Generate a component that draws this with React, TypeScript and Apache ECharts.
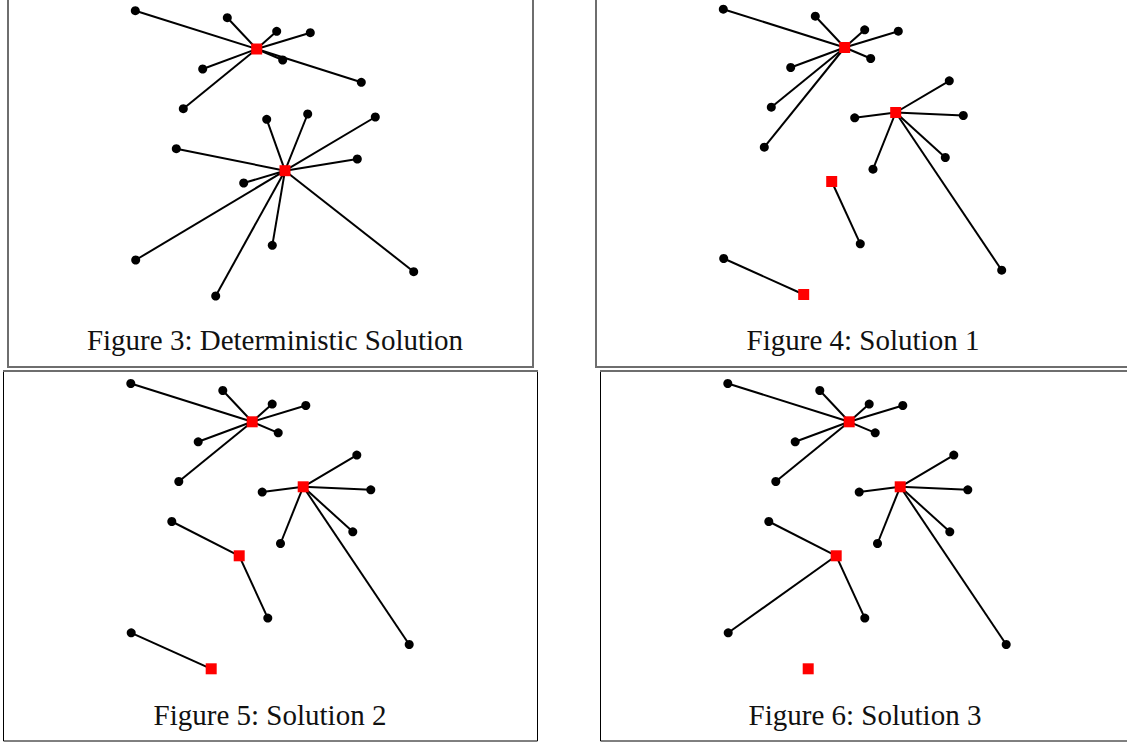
import React, { useEffect, useRef } from "react";
import * as echarts from "echarts";

// Node (customer) locations, in a shared plane (x right, y down)
const nodeX = [256.7, 135.3, 227.3, 276.7, 310.3, 282.7, 361.3, 202.7, 183.3, 285, 266.7, 307.7, 375.3, 176.3, 357.3, 243.7, 135.7, 215.7, 272.3, 413.7];
const nodeY = [49, 10.7, 17.7, 31.3, 32.7, 60, 82.3, 69, 108.7, 170.7, 119.3, 114, 117, 148.7, 159, 183, 260, 296, 245.3, 271.7];

// For each solution: the node that serves each node (a node serving itself is an open facility)
const deterministic = [0, 0, 0, 0, 0, 0, 0, 0, 0, 9, 9, 9, 9, 9, 9, 9, 9, 9, 9, 9];
const solution1 = [0, 0, 0, 0, 0, 0, 11, 0, 0, 11, 11, 11, 11, 0, 11, 15, 17, 17, 15, 11];
const solution2 = [0, 0, 0, 0, 0, 0, 11, 0, 0, 11, 11, 11, 11, 15, 11, 15, 17, 17, 15, 11];
const solution3 = [0, 0, 0, 0, 0, 0, 11, 0, 0, 11, 11, 11, 11, 15, 11, 15, 15, 17, 15, 11];

const captions = [
  "Figure 3: Deterministic Solution",
  "Figure 4: Solution 1",
  "Figure 5: Solution 2",
  "Figure 6: Solution 3",
];

const solutions = [deterministic, solution1, solution2, solution3];

// Layout (pixels)
const X0 = 100, X1 = 450, Y0 = 5, Y1 = 310;
const panelOffsets = [
  [0, 0],
  [588, -1.5],
  [-4.5, 372.8],
  [592.5, 372.8],
];
const captionPos = [
  [275, 340],
  [863, 340],
  [270, 715],
  [865, 715],
];

function buildOption() {
  const grid: any[] = [];
  const xAxis: any[] = [];
  const yAxis: any[] = [];
  const series: any[] = [];

  solutions.forEach((assign, i) => {
    const [ox, oy] = panelOffsets[i];
    grid.push({ left: ox + X0, top: oy + Y0, width: X1 - X0, height: Y1 - Y0, containLabel: false, show: false });
    xAxis.push({ type: "value", gridIndex: i, min: X0, max: X1, show: false });
    yAxis.push({ type: "value", gridIndex: i, min: Y0, max: Y1, inverse: true, show: false });

    const links: any[] = [];
    const dots: number[][] = [];
    const hubs: number[][] = [];
    assign.forEach((f, k) => {
      if (f === k) {
        hubs.push([nodeX[k], nodeY[k]]);
      } else {
        dots.push([nodeX[k], nodeY[k]]);
        links.push({ coords: [[nodeX[f], nodeY[f]], [nodeX[k], nodeY[k]]] });
      }
    });

    series.push({
      type: "lines",
      coordinateSystem: "cartesian2d",
      xAxisIndex: i,
      yAxisIndex: i,
      data: links,
      silent: true,
      z: 1,
      lineStyle: { color: "#000", width: 2, opacity: 1, curveness: 0 },
    });
    series.push({
      type: "scatter",
      xAxisIndex: i,
      yAxisIndex: i,
      data: dots,
      symbol: "circle",
      symbolSize: 9,
      silent: true,
      clip: false,
      z: 2,
      itemStyle: { color: "#000", opacity: 1 },
    });
    series.push({
      type: "scatter",
      xAxisIndex: i,
      yAxisIndex: i,
      data: hubs,
      symbol: "rect",
      symbolSize: 11,
      silent: true,
      clip: false,
      z: 3,
      itemStyle: { color: "#ff0000", opacity: 1 },
    });
  });

  const graphic: any[] = [
    { type: "rect", silent: true, z: 0, shape: { x: 8, y: -10, width: 525, height: 377 }, style: { fill: "none", stroke: "#6e6e6e", lineWidth: 2 } },
    { type: "rect", silent: true, z: 0, shape: { x: 596, y: -10, width: 600, height: 377 }, style: { fill: "none", stroke: "#6e6e6e", lineWidth: 2 } },
    { type: "rect", silent: true, z: 0, shape: { x: 3.5, y: 371, width: 534, height: 370 }, style: { fill: "none", stroke: "#000", lineWidth: 1 } },
    { type: "rect", silent: true, z: 0, shape: { x: 600.5, y: 371, width: 600, height: 370 }, style: { fill: "none", stroke: "#000", lineWidth: 1 } },
    { type: "line", silent: true, z: 1, shape: { x1: 3, y1: 371, x2: 538, y2: 371 }, style: { stroke: "#6e6e6e", lineWidth: 2 } },
    { type: "line", silent: true, z: 1, shape: { x1: 600, y1: 371, x2: 1127, y2: 371 }, style: { stroke: "#6e6e6e", lineWidth: 2 } },
  ];
  captions.forEach((t, i) => {
    graphic.push({
      type: "text",
      silent: true,
      x: captionPos[i][0],
      y: captionPos[i][1],
      style: {
        text: t,
        fill: "#111",
        fontSize: 29,
        fontFamily: '"Liberation Serif", serif',
        textAlign: "center",
        align: "center",
        textVerticalAlign: "middle",
        verticalAlign: "middle",
      },
    });
  });

  return {
    animation: false,
    backgroundColor: "#ffffff",
    grid,
    xAxis,
    yAxis,
    series,
    graphic,
  };
}

export default function App() {
  const ref = useRef<HTMLDivElement>(null);
  useEffect(() => {
    if (!ref.current) return;
    const chart = echarts.init(ref.current, null, { renderer: "svg" });
    chart.setOption(buildOption() as any);
    return () => chart.dispose();
  }, []);
  return (
    <div
      ref={ref}
      style={{ position: "absolute", left: 0, top: 0, width: 1127, height: 742 }}
    />
  );
}
